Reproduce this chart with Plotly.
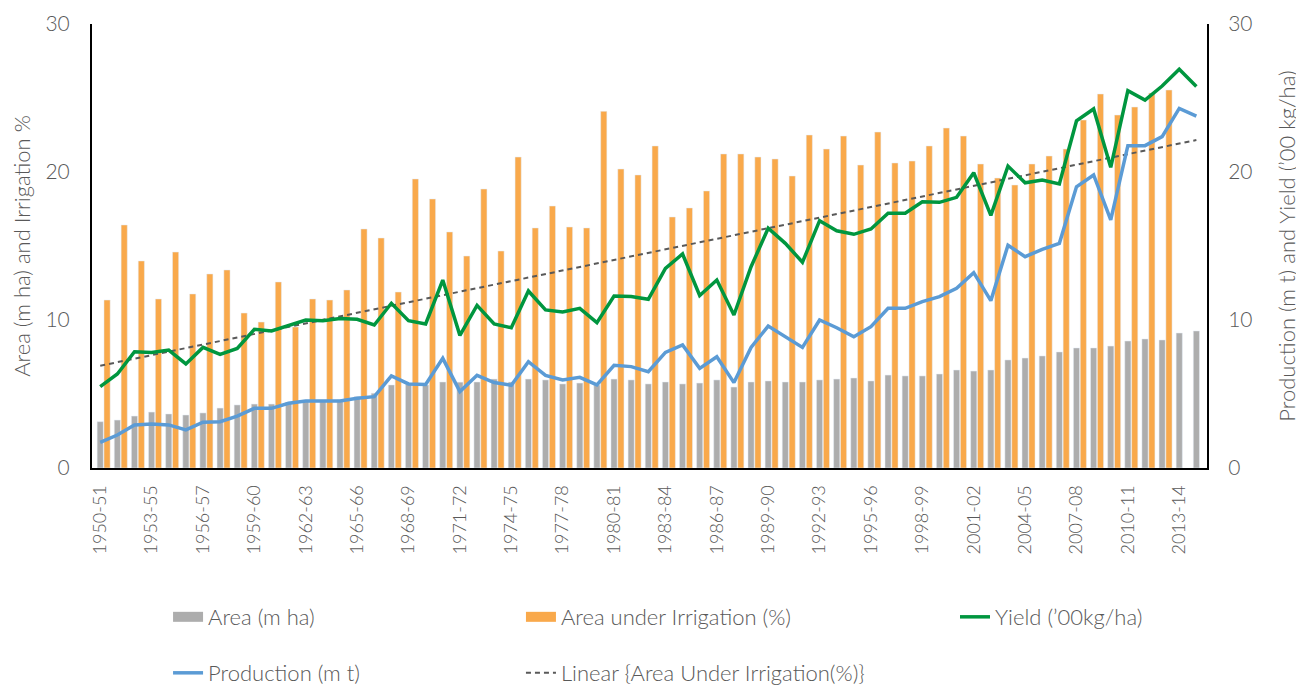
import plotly.graph_objects as go

# ---------------- data ----------------
seasons = [f"{y}-{str(y + 1)[-2:]}" for y in range(1950, 2015)]

tick_labels = ["1950-51", "1953-55", "1956-57", "1959-60", "1962-63", "1965-66",
               "1968-69", "1971-72", "1974-75", "1977-78", "1980-81", "1983-84",
               "1986-87", "1989-90", "1992-93", "1995-96", "1998-99", "2001-02",
               "2004-05", "2007-08", "2010-11", "2013-14"]

area = [3.13, 3.24, 3.51, 3.78, 3.65, 3.58, 3.72, 4.05, 4.26, 4.32,
        4.32, 4.45, 4.59, 4.60, 4.60, 4.82, 5.05, 5.61, 5.65, 5.61,
        5.81, 5.80, 5.81, 6.01, 5.81, 6.01, 5.95, 5.68, 5.74, 5.61,
        6.01, 5.95, 5.68, 5.81, 5.68, 5.74, 5.95, 5.47, 5.81, 5.88,
        5.81, 5.81, 5.95, 6.01, 6.08, 5.88, 6.28, 6.22, 6.22, 6.35,
        6.62, 6.55, 6.62, 7.30, 7.43, 7.57, 7.84, 8.11, 8.11, 8.24,
        8.58, 8.72, 8.65, 9.12, 9.26]

irrigation = [11.35, 16.42, 13.99, 11.42, 14.59, 11.76, 13.11, 13.38, 10.47, 9.86,
              12.57, 9.53, 11.42, 11.35, 12.03, 16.15, 15.54, 11.89, 19.53, 18.18,
              15.95, 14.32, 18.85, 14.66, 21.01, 16.22, 17.70, 16.28, 16.22, 24.10,
              20.20, 19.80, 21.76, 16.96, 17.57, 18.72, 21.22, 21.22, 21.01, 20.88,
              19.73, 22.50, 21.55, 22.43, 20.47, 22.70, 20.61, 20.74, 21.76, 22.97,
              22.43, 20.54, 19.59, 19.12, 20.54, 21.08, 21.55, 23.51, 25.27, 23.85,
              24.39, 25.34, 25.54, None, None]

yield_ = [5.50, 6.35, 7.86, 7.81, 7.97, 7.03, 8.15, 7.68, 8.08, 9.37,
          9.26, 9.66, 10.00, 9.95, 10.10, 10.05, 9.66, 11.13, 9.95, 9.73,
          12.70, 8.96, 10.99, 9.73, 9.48, 11.96, 10.68, 10.54, 10.79, 9.82,
          11.62, 11.58, 11.40, 13.49, 14.46, 11.66, 12.70, 10.34, 13.60, 16.20,
          15.18, 13.90, 16.71, 16.03, 15.79, 16.15, 17.21, 17.21, 17.99, 17.95,
          18.29, 19.95, 17.07, 20.40, 19.27, 19.46, 19.19, 23.45, 24.26, 20.32,
          25.50, 24.86, 25.81, 26.94, 25.77]

production = [1.73, 2.23, 2.91, 2.97, 2.91, 2.57, 3.09, 3.13, 3.51, 4.03,
              4.03, 4.37, 4.53, 4.53, 4.53, 4.71, 4.82, 6.22, 5.68, 5.65,
              7.41, 5.16, 6.26, 5.77, 5.59, 7.18, 6.26, 5.95, 6.13, 5.61,
              6.94, 6.85, 6.51, 7.81, 8.31, 6.73, 7.52, 5.77, 8.15, 9.59,
              8.87, 8.15, 10.00, 9.48, 8.87, 9.55, 10.79, 10.79, 11.24, 11.58,
              12.14, 13.20, 11.31, 15.05, 14.28, 14.77, 15.18, 19.00, 19.80, 16.76,
              21.78, 21.78, 22.39, 24.30, 23.78]

# linear trend line of irrigation as drawn (start / end values)
trend_x = [seasons[0], seasons[-1]]
trend_y = [6.91, 22.16]

# ---------------- style ----------------
GRAY = "#ADADAD"
ORANGE = "#F9A94B"
GREEN = "#00963F"
BLUE = "#5B9BD5"
DASH = "#595959"
TXT = "#595959"
FONT = "Lato"
W = 300


def f(size):
    return dict(family=FONT, size=size, color=TXT, weight=W)


fig = go.Figure()

fig.add_trace(go.Bar(x=seasons, y=area, name="Area (m ha)", marker_color=GRAY,
                     width=0.36, offset=-0.18, showlegend=False, yaxis="y"))
fig.add_trace(go.Bar(x=seasons, y=irrigation, name="Area under Irrigation (%)",
                     marker_color=ORANGE, width=0.36, offset=0.22,
                     showlegend=False, yaxis="y"))
fig.add_trace(go.Scatter(x=trend_x, y=trend_y, mode="lines",
                         name="Linear {Area Under Irrigation(%)}",
                         line=dict(color=DASH, width=2, dash="5px,4px"),
                         legend="legend5", yaxis="y"))
fig.add_trace(go.Scatter(x=seasons, y=production, mode="lines", name="Production (m t)",
                         line=dict(color=BLUE, width=3.5), legend="legend4", yaxis="y2"))
fig.add_trace(go.Scatter(x=seasons, y=yield_, mode="lines", name="Yield (’00kg/ha)",
                         line=dict(color=GREEN, width=3.5), legend="legend3", yaxis="y2"))

# legend proxies for the bar series (wide swatches)
fig.add_trace(go.Scatter(x=[None], y=[None], mode="lines", name="Area (m ha)",
                         line=dict(color=GRAY, width=10), legend="legend", yaxis="y"))
fig.add_trace(go.Scatter(x=[None], y=[None], mode="lines", name="Area under Irrigation (%)",
                         line=dict(color=ORANGE, width=10), legend="legend2", yaxis="y"))

leg_common = dict(orientation="h", xanchor="left", yanchor="middle",
                  xref="container", yref="container",
                  bgcolor="rgba(0,0,0,0)", font=f(22))
row1, row2 = 0.1004, 0.0177
col1, col2, col3 = 0.1235, 0.3958, 0.7307

fig.update_layout(
    width=1296, height=677,
    margin=dict(l=84, r=97, t=16, b=217),
    paper_bgcolor="white", plot_bgcolor="white",
    font=f(20),
    barmode="overlay",
    xaxis=dict(type="category", categoryorder="array", categoryarray=seasons,
               range=[-0.48, 64.62], tickvals=seasons[::3], ticktext=tick_labels,
               tickangle=-90, tickfont=f(18),
               showline=True, linecolor="black", linewidth=2, showgrid=False,
               ticks="", ticklabelstandoff=8, automargin=False),
    yaxis=dict(range=[0, 30], tickvals=[0, 10, 20, 30], showgrid=False, zeroline=False,
               showline=True, linecolor="black", linewidth=2, ticks="",
               ticklabelstandoff=16, tickfont=f(21), automargin=False,
               title=dict(text="Area (m ha) and Irrigation %", standoff=14, font=f(22))),
    yaxis2=dict(range=[0, 30], tickvals=[0, 10, 20, 30], overlaying="y", side="right",
                showgrid=False, zeroline=False, showline=True, linecolor="black",
                linewidth=2, ticks="", ticklabelstandoff=15, automargin=False,
                tickfont=f(21),
                title=dict(text="Production (m t) and Yield (’00 kg/ha)", standoff=28,
                           font=f(22))),
    legend=dict(x=col1, y=row1, **leg_common),
    legend2=dict(x=col2, y=row1, **leg_common),
    legend3=dict(x=col3, y=row1, **leg_common),
    legend4=dict(x=col1, y=row2, **leg_common),
    legend5=dict(x=col2, y=row2, **leg_common),
)

fig.write_html("out.html")
